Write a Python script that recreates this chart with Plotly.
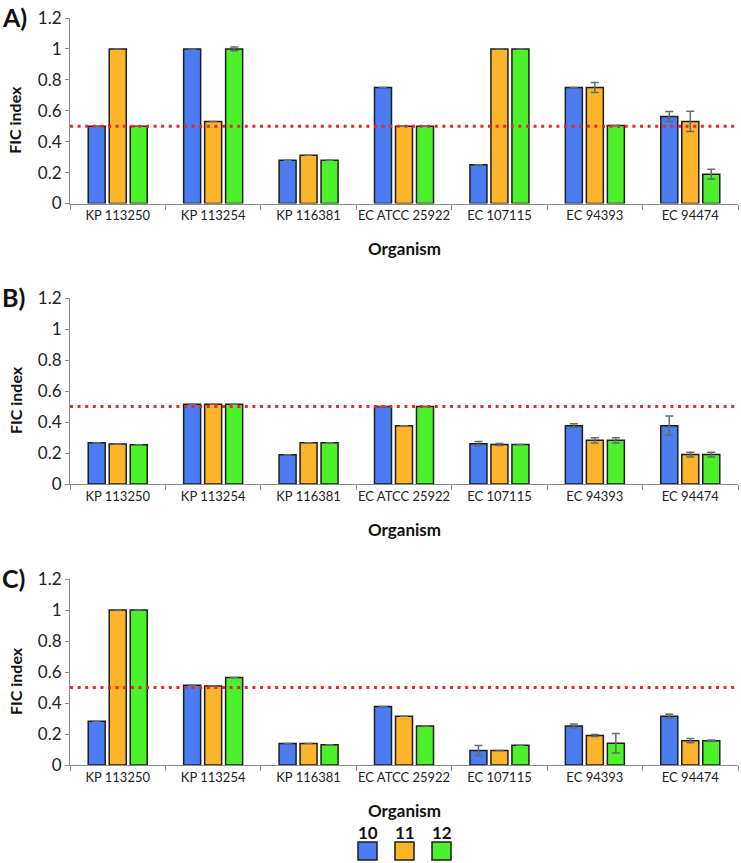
import plotly.graph_objects as go

W, H = 741, 863

categories = ["KP 113250", "KP 113254", "KP 116381", "EC ATCC 25922",
              "EC 107115", "EC 94393", "EC 94474"]
series_names = ["10", "11", "12"]
series_colors = ["#4B7CF2", "#FCB42A", "#4CF12B"]

# Panel A
a_10 = [0.5, 1.0, 0.28, 0.75, 0.25, 0.75, 0.563]
a_11 = [1.0, 0.53, 0.312, 0.5, 1.0, 0.75, 0.531]
a_12 = [0.5, 1.0, 0.28, 0.5, 1.0, 0.505, 0.19]
a_10_err = [0, 0, 0, 0, 0, 0, 0.032]
a_11_err = [0, 0, 0, 0, 0, 0.032, 0.065]
a_12_err = [0, 0.012, 0, 0, 0, 0, 0.032]

# Panel B
b_10 = [0.266, 0.515, 0.189, 0.5, 0.259, 0.376, 0.376]
b_11 = [0.258, 0.515, 0.266, 0.376, 0.255, 0.282, 0.19]
b_12 = [0.254, 0.515, 0.266, 0.5, 0.255, 0.282, 0.19]
b_10_err = [0, 0, 0, 0, 0.016, 0.013, 0.062]
b_11_err = [0, 0, 0, 0, 0.006, 0.017, 0.015]
b_12_err = [0, 0, 0, 0, 0, 0.017, 0.015]

# Panel C
c_10 = [0.282, 0.515, 0.138, 0.377, 0.093, 0.252, 0.315]
c_11 = [1.0, 0.509, 0.138, 0.315, 0.093, 0.19, 0.157]
c_12 = [1.0, 0.565, 0.131, 0.252, 0.127, 0.14, 0.157]
c_10_err = [0, 0, 0, 0, 0.032, 0.013, 0.013]
c_11_err = [0, 0, 0, 0, 0, 0.006, 0.014]
c_12_err = [0, 0, 0, 0, 0, 0.0625, 0.005]

threshold = 0.5
panel_labels = ["A)", "B)", "C)"]
y_title = "FIC index"
x_title = "Organism"

panels = [
    ([a_10, a_11, a_12], [a_10_err, a_11_err, a_12_err]),
    ([b_10, b_11, b_12], [b_10_err, b_11_err, b_12_err]),
    ([c_10, c_11, c_12], [c_10_err, c_11_err, c_12_err]),
]

FONT = "Lato"
AXIS_COL = "#8A8A8A"


def px_x(p):
    return p / W


def px_y(p):
    return 1 - p / H


# pixel geometry of each panel: (top of 1.2, bottom at 0)
panel_px = [(18, 203.5), (298, 484), (579, 765)]
x_left, x_right = 70, 738

fig = go.Figure()
layout = dict(
    width=W, height=H, autosize=False,
    margin=dict(l=0, r=0, t=0, b=0, pad=0, autoexpand=False),
    paper_bgcolor="white", plot_bgcolor="white",
    barmode="group", bargap=0.34, bargroupgap=0.19,
    showlegend=False,
    font=dict(family=FONT, color="#222222"),
)
annotations = []
shapes = []

for i, (vals, errs) in enumerate(panels):
    sfx = "" if i == 0 else str(i + 1)
    xa, ya = "x" + sfx, "y" + sfx
    for s in range(3):
        fig.add_trace(go.Bar(
            x=categories, y=vals[s], name=series_names[s],
            xaxis=xa, yaxis=ya,
            marker=dict(color=series_colors[s], line=dict(color="#1E1E1E", width=1.5)),
            error_y=dict(type="data", array=errs[s], visible=True,
                         color="#5E6E6E", thickness=1.5, width=4),
        ))
    top, bot = panel_px[i]
    layout["xaxis" + sfx] = dict(
        domain=[px_x(x_left), px_x(x_right)], anchor=ya,
        type="category", range=[-0.5, 6.5], automargin=False,
        showline=True, linecolor=AXIS_COL, linewidth=1.2,
        ticks="outside", tickson="boundaries", ticklen=5, tickcolor=AXIS_COL,
        tickangle=0,
        tickfont=dict(size=13, family=FONT, color="#222222"),
        showgrid=False, zeroline=False,
    )
    layout["yaxis" + sfx] = dict(
        domain=[px_y(bot), px_y(top)], anchor=xa,
        range=[0, 1.2], dtick=0.2, tick0=0, automargin=False,
        showline=True, linecolor=AXIS_COL, linewidth=1.2,
        ticks="outside", ticklen=4, tickcolor=AXIS_COL,
        tickfont=dict(size=17, family=FONT, color="#222222"),
        showgrid=False, zeroline=False,
    )
    # threshold line
    shapes.append(dict(
        type="line", xref=xa + " domain", yref=ya,
        x0=0, x1=1, y0=threshold, y1=threshold,
        line=dict(color="#E8282C", width=3, dash="3px,4.6px"),
        layer="above",
    ))
    # panel label
    annotations.append(dict(
        text="<b>%s</b>" % panel_labels[i], xref="paper", yref="paper",
        x=px_x(0), y=px_y(top - 1), xanchor="left", yanchor="middle",
        showarrow=False, font=dict(size=25, family=FONT, color="#111111"),
    ))
    # y title
    annotations.append(dict(
        text="<b>%s</b>" % y_title, xref="paper", yref="paper",
        x=px_x(15), y=px_y((top + bot) / 2 + 9), textangle=-90,
        xanchor="center", yanchor="middle", showarrow=False,
        font=dict(size=16, family=FONT, color="#111111"),
    ))
    # x title
    annotations.append(dict(
        text="<b>%s</b>" % x_title, xref="paper", yref="paper",
        x=px_x(404), y=px_y(bot + 45), xanchor="center", yanchor="middle",
        showarrow=False, font=dict(size=17, family=FONT, color="#111111"),
    ))

# custom legend below panel C
leg_centers = [367.5, 404.5, 441.5]
for s in range(3):
    cx = leg_centers[s]
    annotations.append(dict(
        text="<b>%s</b>" % series_names[s], xref="paper", yref="paper",
        x=px_x(cx), y=px_y(832), xanchor="center", yanchor="middle",
        showarrow=False, font=dict(size=17, family=FONT, color="#111111"),
    ))
    shapes.append(dict(
        type="rect", xref="paper", yref="paper",
        x0=px_x(cx - 9.5), x1=px_x(cx + 9.5), y0=px_y(860), y1=px_y(842),
        fillcolor=series_colors[s], line=dict(color="#1E1E1E", width=1.5),
    ))

layout["annotations"] = annotations
layout["shapes"] = shapes
fig.update_layout(**layout)
fig.write_html(
    "out.html",
    config={"displayModeBar": False},
    post_script="document.body.style.margin='0';document.body.style.overflow='hidden';",
)
